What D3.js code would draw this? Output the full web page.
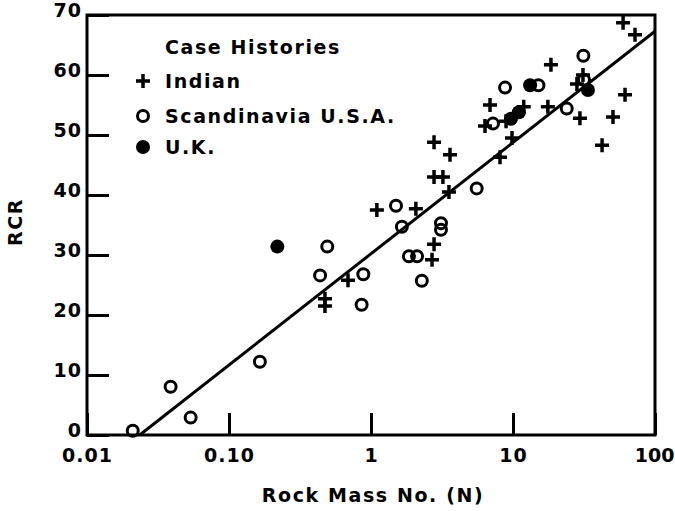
<!DOCTYPE html>
<html>
<head>
<script src="https://cdn.jsdelivr.net/npm/d3@7"></script>
<style>
  body { margin: 0; background: #fff; }
  svg text { font-family: "DejaVu Sans", sans-serif; font-weight: bold; fill: #000; }
</style>
</head>
<body>
<div id="chart"></div>
<script>

// Indian case histories (N, RCR)
var indianN   = [0.474, 0.474, 0.689, 1.10, 2.07, 2.78, 2.69, 2.78, 3.60, 2.78, 3.21, 3.54,
                 6.89, 6.35, 8.10, 9.84, 8.93, 11.9, 18.5, 17.6, 31.1, 28.2, 29.6, 50.6, 61.5, 42.4, 59.6, 72.3];
var indianRCR = [22.7, 21.5, 25.8, 37.5, 37.7, 31.8, 29.2, 48.8, 46.7, 43.0, 43.0, 40.5,
                 55.0, 51.5, 46.3, 49.5, 52.3, 54.7, 61.7, 54.7, 60.0, 58.5, 52.8, 53.0, 56.7, 48.3, 68.7, 66.7];

// Scandinavia / U.S.A.
var scandN   = [0.0210, 0.0388, 0.0537, 0.165, 0.492, 0.438, 0.883, 0.859, 1.50, 1.65, 3.11, 3.11,
                1.85, 2.11, 2.28, 5.55, 7.23, 8.79, 15.1, 31.3, 23.9, 31.6];
var scandRCR = [0.7, 8.05, 2.9, 12.2, 31.4, 26.6, 26.8, 21.7, 38.2, 34.7, 35.3, 34.2,
                29.8, 29.8, 25.7, 41.1, 51.9, 57.9, 58.3, 63.2, 54.4, 59.2];

// U.K.
var ukN   = [0.219, 13.2, 9.68, 11.0, 33.7];
var ukRCR = [31.4, 58.3, 52.7, 53.8, 57.5];

// fitted line end points
var lineN   = [0.0235, 100];
var lineRCR = [0, 67.3];

var xTicks = [0.01, 0.1, 1, 10, 100];
var xTickLabels = ["0.01", "0.10", "1", "10", "100"];
var yTicks = [0, 10, 20, 30, 40, 50, 60, 70];

var width = 675, height = 511;
var plotLeft = 87, plotRight = 655, plotTop = 15, plotBottom = 435;

var svg = d3.select("#chart").append("svg")
    .attr("width", width)
    .attr("height", height);

var x = d3.scaleLog().domain([0.01, 100]).range([plotLeft, plotRight]);
var y = d3.scaleLinear().domain([0, 70]).range([plotBottom, plotTop]);

// frame
svg.append("rect")
    .attr("x", plotLeft).attr("y", plotTop)
    .attr("width", plotRight - plotLeft).attr("height", plotBottom - plotTop)
    .attr("fill", "none").attr("stroke", "#000").attr("stroke-width", 3);

var yAxis = svg.append("g")
    .attr("transform", "translate(" + plotLeft + ",0)")
    .call(d3.axisLeft(y).tickValues(yTicks).tickSizeInner(-22).tickSizeOuter(0).tickPadding(5).tickFormat(d3.format("d")));

var xAxis = svg.append("g")
    .attr("transform", "translate(0," + plotBottom + ")")
    .call(d3.axisBottom(x).tickValues(xTicks).tickSizeInner(-22).tickSizeOuter(0).tickPadding(8)
        .tickFormat(function(d, i) { return xTickLabels[i]; }));

[xAxis, yAxis].forEach(function(g) {
  g.select(".domain").remove();
  g.selectAll(".tick line").attr("stroke", "#000").attr("stroke-width", 3);
  g.selectAll(".tick text").style("font-size", "19px").style("letter-spacing", "1px");
});
yAxis.selectAll(".tick text").attr("dy", "0.1em");
xAxis.selectAll(".tick text").attr("dy", "1em");
// keep "100" inside the window edge
xAxis.selectAll(".tick text").filter(function(d) { return d === 100; })
    .attr("text-anchor", "end").attr("x", 19).style("letter-spacing", "0px");

// fitted line
svg.append("line")
    .attr("x1", x(lineN[0])).attr("y1", y(lineRCR[0]))
    .attr("x2", x(lineN[1])).attr("y2", y(lineRCR[1]))
    .attr("stroke", "#000").attr("stroke-width", 3);

function plus(g, cx, cy) {
  g.append("path")
    .attr("d", "M" + (cx - 7) + "," + cy + "H" + (cx + 7) + "M" + cx + "," + (cy - 7) + "V" + (cy + 7))
    .attr("stroke", "#000").attr("stroke-width", 3.5).attr("fill", "none");
}
function ring(g, cx, cy) {
  g.append("circle").attr("cx", cx).attr("cy", cy).attr("r", 5.5)
    .attr("fill", "none").attr("stroke", "#000").attr("stroke-width", 3);
}
function dot(g, cx, cy) {
  g.append("circle").attr("cx", cx).attr("cy", cy).attr("r", 7).attr("fill", "#000");
}

var pts = svg.append("g");
indianN.forEach(function(n, i) { plus(pts, x(n), y(indianRCR[i])); });
scandN.forEach(function(n, i) { ring(pts, x(n), y(scandRCR[i])); });
ukN.forEach(function(n, i) { dot(pts, x(n), y(ukRCR[i])); });

// legend
var leg = svg.append("g");
leg.append("text").attr("x", 165).attr("y", 54).text("Case Histories");
plus(leg, 143, 81);
leg.append("text").attr("x", 165).attr("y", 88).text("Indian");
ring(leg, 143, 116);
leg.append("text").attr("x", 165).attr("y", 123).text("Scandinavia U.S.A.");
dot(leg, 143, 147);
leg.append("text").attr("x", 165).attr("y", 154).text("U.K.");
leg.selectAll("text").style("font-size", "19px").style("letter-spacing", "1.6px");

// axis titles
svg.append("text")
    .attr("x", 373).attr("y", 502)
    .attr("text-anchor", "middle")
    .style("font-size", "19px").style("letter-spacing", "1.6px")
    .text("Rock Mass No. (N)");

svg.append("text")
    .attr("transform", "translate(22,222) rotate(-90)")
    .attr("text-anchor", "middle")
    .style("font-size", "19px").style("letter-spacing", "1.6px")
    .text("RCR");

</script>
</body>
</html>
